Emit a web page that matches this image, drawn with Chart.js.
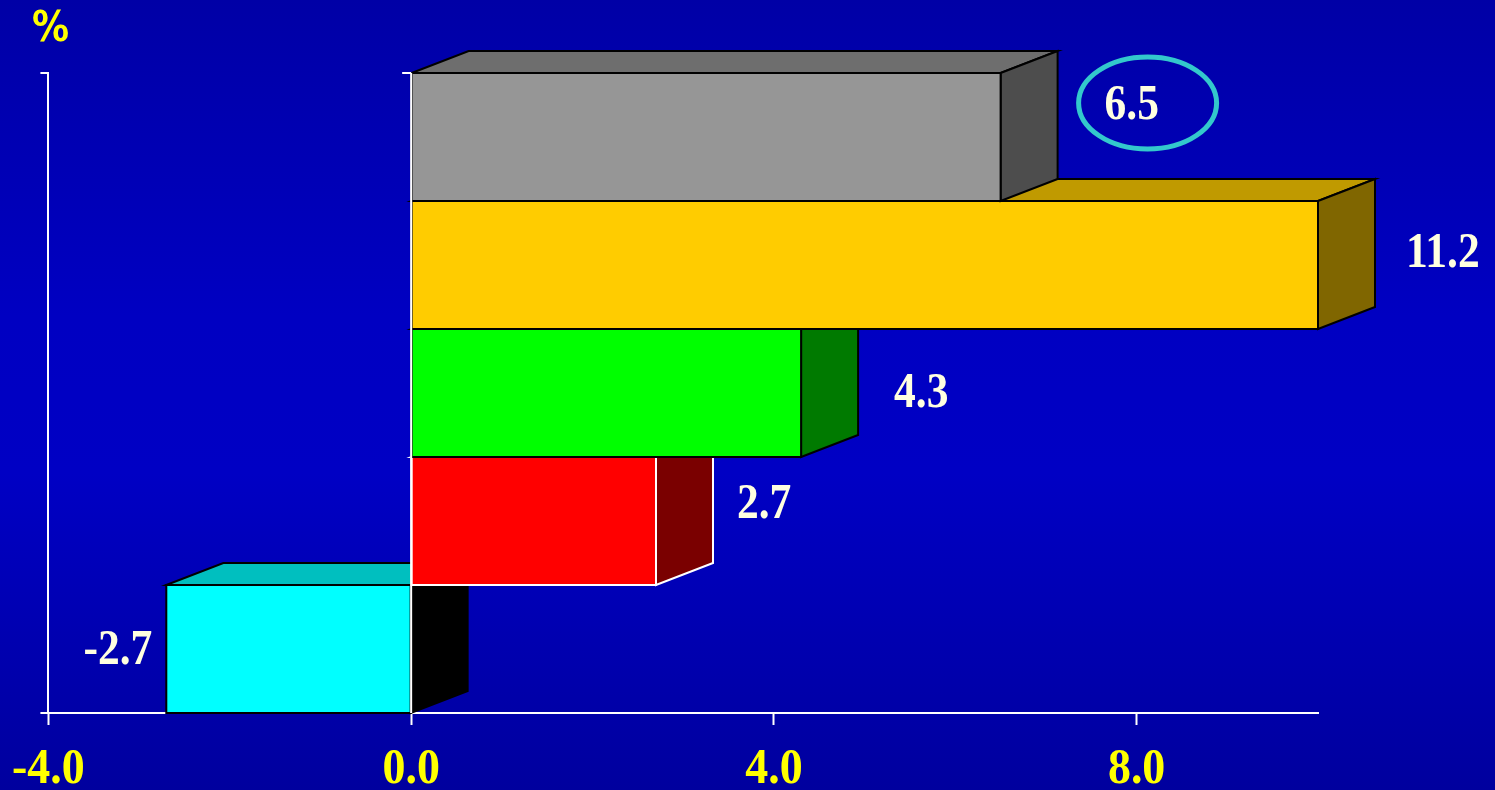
<!DOCTYPE html>
<html>
<head>
<meta charset="utf-8">
<script src="https://cdn.jsdelivr.net/npm/chart.js@4.4.1/dist/chart.umd.min.js"></script>
<style>
  html, body { margin: 0; padding: 0; width: 1495px; height: 790px; overflow: hidden; }
  body { background: linear-gradient(to bottom, #0000a6 0%, #0000c2 40%, #0000c4 60%, #00009e 100%); }
  #chart { display: block; }
</style>
</head>
<body>
<canvas id="chart" width="1495" height="790"></canvas>
<script>
// data
const categories = ['Grey', 'Yellow', 'Green', 'Red', 'Cyan'];
const values = [6.5, 11.2, 4.3, 2.7, -2.7];
const tickValues = [-4, 0, 4, 8];
const axisMin = -4;
const axisMax = 10;
const unitLabel = '%';

// styles
const frontColors = ['#969696', '#FFCC00', '#00FF00', '#FF0000', '#00FFFF'];
const topColors   = ['#6E6E6E', '#C09A00', '#00B000', '#B00000', '#00BFBF'];
const sideColors  = ['#4D4D4D', '#806600', '#007A00', '#7A0000', '#000000'];
const edgeColors  = ['#000000', '#000000', '#000000', '#FFFFFF', '#000000'];
// label nudges [dx from bar end, dy from bar centre]
const labelNudge  = [[47, -35], [31, -15], [36, -3], [24, -20], [-14, -2]];
const DEPTH_X = 57, DEPTH_Y = 22;
const SERIF = '"Liberation Serif", "Times New Roman", serif';

function poly(ctx, pts, fill, stroke) {
    ctx.beginPath();
    ctx.moveTo(pts[0][0], pts[0][1]);
    for (let i = 1; i < pts.length; i++) ctx.lineTo(pts[i][0], pts[i][1]);
    ctx.closePath();
    ctx.fillStyle = fill;
    ctx.fill();
    ctx.strokeStyle = stroke;
    ctx.lineWidth = 2;
    ctx.lineJoin = 'miter';
    ctx.stroke();
}

// the original type is a tall, narrow bold serif
function tallText(ctx, txt, x, y, align, sx) {
    ctx.save();
    ctx.translate(x, y);
    ctx.scale(sx, 1);
    ctx.textAlign = align;
    ctx.textBaseline = 'alphabetic';
    ctx.fillText(txt, 0, 0);
    ctx.restore();
}

// draws the boxes bottom-up so upper bars cover the top faces below them
const boxPlugin = {
    id: 'boxes',
    afterDatasetsDraw(chart) {
        const ctx = chart.ctx;
        const area = chart.chartArea;
        const meta = chart.getDatasetMeta(0);
        ctx.save();
        for (let i = meta.data.length - 1; i >= 0; i--) {
            const p = meta.data[i].getProps(['x', 'y', 'base', 'height'], true);
            const x0 = Math.max(Math.min(p.x, p.base), area.left);
            const x1 = Math.min(Math.max(p.x, p.base), area.right);
            const top = p.y - p.height / 2;
            const bottom = p.y + p.height / 2;
            const edge = edgeColors[i];
            poly(ctx, [[x0, top], [x0 + DEPTH_X, top - DEPTH_Y], [x1 + DEPTH_X, top - DEPTH_Y], [x1, top]], topColors[i], edge);
            poly(ctx, [[x1, top], [x1 + DEPTH_X, top - DEPTH_Y], [x1 + DEPTH_X, bottom - DEPTH_Y], [x1, bottom]], sideColors[i], sideColors[i] === '#000000' ? '#000000' : edge);
            poly(ctx, [[x0, top], [x1, top], [x1, bottom], [x0, bottom]], frontColors[i], edge);
        }
        ctx.restore();
    },
    afterDraw(chart) {
        const ctx = chart.ctx;
        const area = chart.chartArea;
        const xs = chart.scales.x;
        const zero = xs.getPixelForValue(0);
        const meta = chart.getDatasetMeta(0);
        ctx.save();
        // axis lines and small end ticks
        ctx.strokeStyle = '#FFFFFF';
        ctx.lineWidth = 2;
        ctx.beginPath();
        ctx.moveTo(zero, area.top); ctx.lineTo(zero, area.bottom);
        ctx.moveTo(zero - 9, area.top); ctx.lineTo(zero, area.top);
        ctx.moveTo(area.left - 8, area.top); ctx.lineTo(area.left, area.top);
        ctx.moveTo(area.left - 8, area.bottom); ctx.lineTo(area.left, area.bottom);
        ctx.stroke();

        // x tick labels
        ctx.font = 'bold 51px ' + SERIF;
        ctx.fillStyle = '#FFFF00';
        xs.ticks.forEach(t => {
            tallText(ctx, Number(t.value).toFixed(1), xs.getPixelForValue(t.value), 783, 'center', 0.9);
        });

        // value labels
        ctx.font = 'bold 50px ' + SERIF;
        ctx.fillStyle = '#FFFFE0';
        meta.data.forEach((bar, i) => {
            const p = bar.getProps(['x', 'y', 'base'], true);
            const v = values[i];
            const txt = v.toFixed(1);
            const ly = p.y + labelNudge[i][1];
            if (v >= 0) {
                const lx = Math.min(p.x, area.right) + DEPTH_X + labelNudge[i][0];
                tallText(ctx, txt, lx, ly + 17, 'left', 0.87);
                if (i === 0) {
                    ctx.strokeStyle = '#33C8CC';
                    ctx.lineWidth = 5;
                    ctx.beginPath();
                    ctx.ellipse(lx + 43, ly + 1, 69, 46, 0, 0, Math.PI * 2);
                    ctx.stroke();
                }
            } else {
                const lx = Math.max(p.x, area.left) + labelNudge[i][0];
                tallText(ctx, txt, lx, ly + 17, 'right', 0.87);
            }
        });

        // unit label
        ctx.font = 'bold 43px "DejaVu Sans", Verdana, sans-serif';
        ctx.fillStyle = '#FFFF00';
        tallText(ctx, unitLabel, 32, 41, 'left', 0.86);
        ctx.restore();
    }
};

new Chart(document.getElementById('chart'), {
    type: 'bar',
    data: {
        labels: categories,
        datasets: [{
            data: values,
            backgroundColor: 'rgba(0,0,0,0)',
            borderWidth: 0,
            categoryPercentage: 1.0,
            barPercentage: 1.0
        }]
    },
    options: {
        indexAxis: 'y',
        responsive: false,
        animation: false,
        devicePixelRatio: 1,
        layout: { padding: { left: 48, right: 177, top: 73, bottom: 0 } },
        plugins: {
            legend: { display: false },
            tooltip: { enabled: false }
        },
        scales: {
            x: {
                type: 'linear',
                min: axisMin,
                max: axisMax,
                z: 1,
                afterFit: (scale) => { scale.height = 77; },
                afterBuildTicks: (scale) => { scale.ticks = tickValues.map(v => ({ value: v })); },
                border: { display: true, color: '#FFFFFF', width: 2 },
                grid: { drawOnChartArea: false, drawTicks: true, tickLength: 12, tickColor: '#FFFFFF', tickWidth: 2 },
                ticks: {
                    color: 'rgba(0,0,0,0)',
                    padding: 12,
                    maxRotation: 0,
                    font: { family: SERIF, size: 46, weight: 'bold' },
                    callback: (v) => Number(v).toFixed(1)
                }
            },
            y: {
                z: 1,
                afterFit: (scale) => { scale.width = 0; },
                border: { display: true, color: '#FFFFFF', width: 2 },
                grid: { display: false },
                ticks: { display: false }
            }
        }
    },
    plugins: [boxPlugin]
});
</script>
</body>
</html>
